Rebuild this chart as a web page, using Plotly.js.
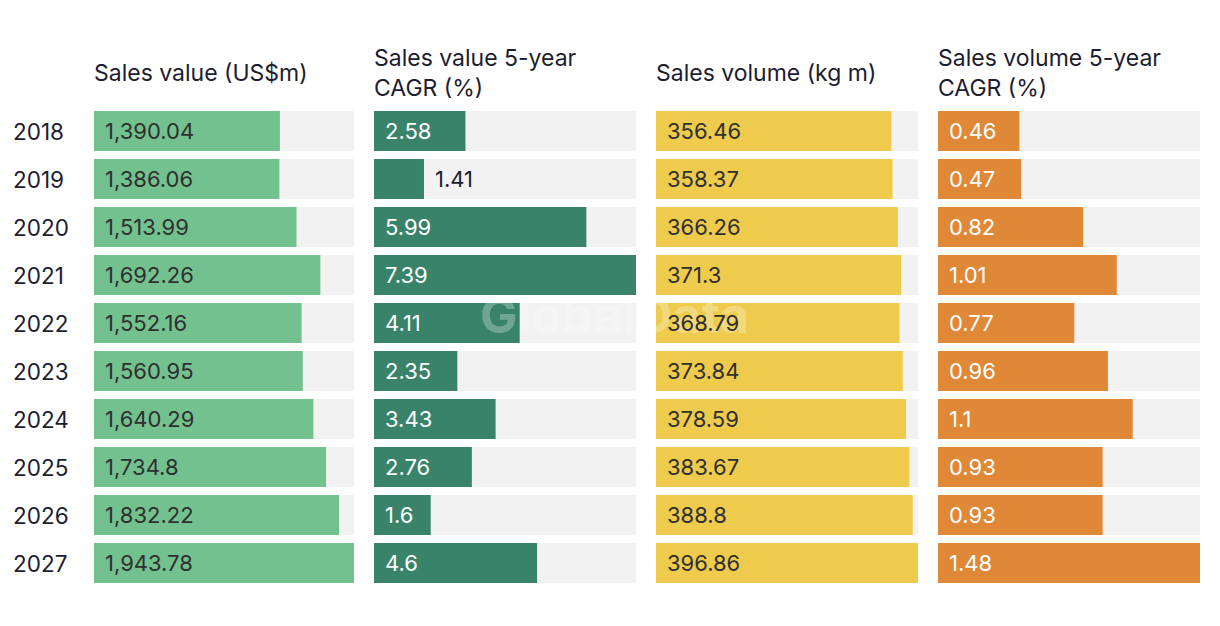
<!DOCTYPE html>
<html><head><meta charset="utf-8">
<script src="https://cdn.plot.ly/plotly-3.0.1.min.js"></script>
<style>html,body{margin:0;padding:0;background:#fff}#chart{width:1220px;height:626px}</style>
</head><body><div id="chart"></div>
<script>
const years = ['2018','2019','2020','2021','2022','2023','2024','2025','2026','2027'];
const salesValue = [1390.04,1386.06,1513.99,1692.26,1552.16,1560.95,1640.29,1734.8,1832.22,1943.78];
const valueCagr = [2.58,1.41,5.99,7.39,4.11,2.35,3.43,2.76,1.6,4.6];
const salesVolume = [356.46,358.37,366.26,371.3,368.79,373.84,378.59,383.67,388.8,396.86];
const volumeCagr = [0.46,0.47,0.82,1.01,0.77,0.96,1.1,0.93,0.93,1.48];
const titles = ['Sales value (US$m)','Sales value 5-year<br>CAGR (%)','Sales volume (kg m)','Sales volume 5-year<br>CAGR (%)'];
const outsideLabels = [[], ['2019'], [], []];

const series = [salesValue, valueCagr, salesVolume, volumeCagr];
const colors = ['#73c18f','#3a836b','#eecb4c','#df8838'];
const textColors = ['#2f2f2f','#ffffff','#2f2f2f','#ffffff'];
const W = 1220;
const domainsPx = [[94,354],[374,636],[656,918],[938,1200]];
const FONT = 'Inter, "Noto Sans", sans-serif';
const DARK = '#1c1d30';

const rows = years.map((_,k)=>k);
const fmt = v => v.toLocaleString('en-US',{maximumFractionDigits:2});
const traces = [];
const annotations = [{xref:'paper',yref:'paper',x:0.504,y:(587-315)/480,text:'<b>GlobalData</b>',showarrow:false,
  font:{size:50,color:'rgba(255,255,255,0.28)',family:FONT}}];
const layout = {
  width:1220, height:626, margin:{l:0,r:0,t:107,b:39},
  paper_bgcolor:'#fff', plot_bgcolor:'rgba(0,0,0,0)',
  barmode:'overlay', showlegend:false, font:{family:FONT,size:22,color:DARK},
};
series.forEach((vals,i)=>{
  const ax = i===0 ? '' : String(i+1);
  const mx = Math.max(...vals);
  traces.push({type:'bar',orientation:'h',y:rows,x:rows.map(()=>mx),xaxis:'x'+ax,yaxis:'y'+ax,
    marker:{color:'#f2f2f2'},width:0.833,hoverinfo:'skip'});
  traces.push({type:'bar',orientation:'h',y:rows,x:vals,xaxis:'x'+ax,yaxis:'y'+ax,
    marker:{color:colors[i]},width:0.833});
  const d = domainsPx[i];
  layout['xaxis'+ax] = {domain:[d[0]/W,d[1]/W],range:[0,mx],visible:false,fixedrange:true,anchor:'y'+ax};
  layout['yaxis'+ax] = {range:[rows.length-0.5,-0.5],anchor:'x'+ax,showgrid:false,zeroline:false,
    showticklabels:false,ticks:''};
  vals.forEach((v,k)=>{
    const out = outsideLabels[i].includes(years[k]);
    annotations.push({xref:'x'+ax,yref:'y'+ax,x:out?v:0,y:k,text:fmt(v),showarrow:false,
      xanchor:'left',xshift:9,font:{size:22,color:out?DARK:textColors[i],family:FONT}});
  });
  annotations.push({xref:'paper',yref:'paper',x:d[0]/W,y:(587-73)/480,xanchor:'left',yanchor:'middle',
    align:'left',xshift:-2,text:titles[i],showarrow:false,font:{size:23,color:DARK,family:FONT}});
});
years.forEach((yr,k)=>{
  annotations.push({xref:'paper',yref:'y',x:11/W,y:k,text:yr,showarrow:false,xanchor:'left',
    font:{size:22.5,color:DARK,family:FONT}});
});
layout.annotations = annotations;
Plotly.newPlot('chart',traces,layout,{displayModeBar:false,staticPlot:true});
</script></body></html>
